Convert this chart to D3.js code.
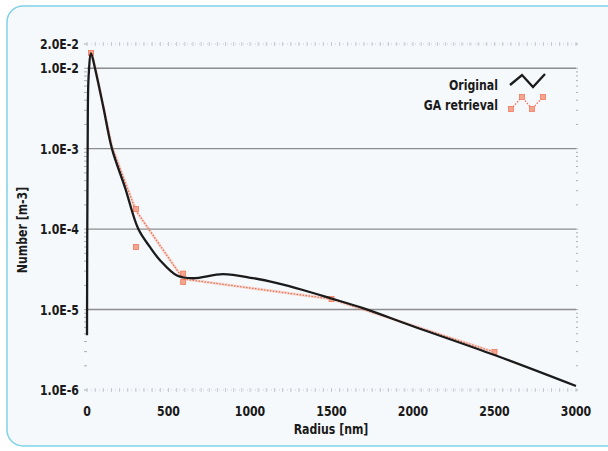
<!DOCTYPE html>
<html>
<head>
<meta charset="utf-8">
<script src="https://cdn.jsdelivr.net/npm/d3@7"></script>
<style>
  html, body { margin: 0; padding: 0; background: #fff; }
  svg text { font-family: "Liberation Sans Narrow", "DejaVu Sans Condensed", "Arial Narrow", sans-serif; font-weight: bold; fill: #1a1a1a; font-size: 14.5px; }
</style>
</head>
<body>
<svg id="chart"></svg>
<script>
// original size distribution (radius nm, number m-3)
const origR = [0, 4, 10, 25, 49, 100, 153, 233, 315, 386, 448, 552, 650, 834, 1018, 1166, 1325, 1491, 1693, 2000, 2500, 3000];
const origN = [4.8e-6, 1e-3, 8e-3, 1.53e-2, 1e-2, 3.3e-3, 1e-3, 3.3e-4, 1e-4, 6e-5, 4.1e-5, 2.65e-5, 2.45e-5, 2.76e-5, 2.46e-5, 2.13e-5, 1.75e-5, 1.39e-5, 1.04e-5, 6.2e-6, 2.72e-6, 1.12e-6];

// GA retrieval line + its markers
const gaR = [25, 49, 153, 300, 590, 1500, 2500];
const gaN = [1.6e-2, 1.05e-2, 1.05e-3, 1.7e-4, 2.4e-5, 1.35e-5, 2.95e-6];
const gaMarkR = [25, 300, 300, 590, 590, 1500, 2500];
const gaMarkN = [1.55e-2, 1.78e-4, 6e-5, 2.8e-5, 2.2e-5, 1.35e-5, 2.96e-6];

const xTicks = [0, 500, 1000, 1500, 2000, 2500, 3000];
const yTicks = [2e-2, 1e-2, 1e-3, 1e-4, 1e-5, 1e-6];
const yTickLabels = ['2.0E-2', '1.0E-2', '1.0E-3', '1.0E-4', '1.0E-5', '1.0E-6'];
const gridVals = [1e-2, 1e-3, 1e-4, 1e-5];

const W = 608, H = 451;
const svg = d3.select('#chart').attr('width', W).attr('height', H);

// squeeze text horizontally, the original uses a condensed face
const squeeze = 0.84;
function label(g, tx, ty, str, anchor, rot) {
  return g.append('text')
    .attr('transform', 'translate(' + tx + ',' + ty + ')' + (rot ? ' rotate(' + rot + ')' : '') + ' scale(' + squeeze + ',1)')
    .attr('text-anchor', anchor)
    .text(str);
}

// panel background with rounded border
svg.append('rect')
  .attr('x', 7).attr('y', 6).attr('width', 640).attr('height', 440).attr('rx', 16)
  .attr('fill', '#f6f9fc').attr('stroke', '#7fd2e5').attr('stroke-width', 1.5);

const x = d3.scaleLinear().domain([0, 3000]).range([87, 576]);
const y = d3.scaleLog().domain([1e-6, 2e-2]).range([390, 44]);

// grid
svg.append('g').selectAll('line')
  .data(gridVals).enter().append('line')
  .attr('x1', x(0)).attr('x2', x(3000))
  .attr('y1', d => y(d)).attr('y2', d => y(d))
  .attr('stroke', '#8c8c8c').attr('stroke-width', 1.4);

// dotted top / bottom frame with minor ticks every 50 nm
const minorX = d3.range(0, 3001, 50);
[2e-2, 1e-6].forEach(v => {
  svg.append('line')
    .attr('x1', x(0)).attr('x2', x(3000)).attr('y1', y(v)).attr('y2', y(v))
    .attr('stroke', '#c9ced4').attr('stroke-width', 1).attr('stroke-dasharray', '1,3');
  svg.append('g').selectAll('line')
    .data(minorX).enter().append('line')
    .attr('x1', d => x(d)).attr('x2', d => x(d))
    .attr('y1', y(v) - 2).attr('y2', y(v) + 2)
    .attr('stroke', '#b9bfc6').attr('stroke-width', 0.8);
});

// minor log ticks on left and right
const minorY = [];
for (let e = -6; e <= -2; e++) {
  for (let m = 1; m <= 9; m++) {
    const v = m * Math.pow(10, e);
    if (v >= 1e-6 && v <= 2e-2) minorY.push(v);
  }
}
svg.append('g').selectAll('line')
  .data(minorY).enter().append('line')
  .attr('x1', x(0) - 3).attr('x2', x(0))
  .attr('y1', d => y(d)).attr('y2', d => y(d))
  .attr('stroke', '#a9afb6').attr('stroke-width', 1);
svg.append('g').selectAll('line')
  .data(minorY).enter().append('line')
  .attr('x1', x(3000)).attr('x2', x(3000) + 2)
  .attr('y1', d => y(d)).attr('y2', d => y(d))
  .attr('stroke', '#a9afb6').attr('stroke-width', 1);

// tick labels
const labels = svg.append('g');
yTicks.forEach((d, i) => label(labels, 79, y(d) + 5, yTickLabels[i], 'end'));
xTicks.forEach(d => label(labels, x(d), 416, String(d), 'middle'));

// axis titles
label(svg, 331, 434, 'Radius [nm]', 'middle');
label(svg, 27, 230, 'Number [m-3]', 'middle', -90);

// GA retrieval
const gaData = gaR.map((r, i) => [r, gaN[i]]);
const gaLine = d3.line().x(d => x(d[0])).y(d => y(d[1]));
svg.append('path')
  .attr('d', gaLine(gaData))
  .attr('fill', 'none').attr('stroke', '#f2a08c').attr('stroke-width', 3).attr('opacity', 0.35);
svg.append('path')
  .attr('d', gaLine(gaData))
  .attr('fill', 'none').attr('stroke', '#ec6f50').attr('stroke-width', 1.3)
  .attr('stroke-dasharray', '1.5,1.5');
svg.append('g').selectAll('rect')
  .data(gaMarkR.map((r, i) => [r, gaMarkN[i]])).enter().append('rect')
  .attr('x', d => x(d[0]) - 2.5).attr('y', d => y(d[1]) - 2.5)
  .attr('width', 5).attr('height', 5)
  .attr('fill', '#f5a58f').attr('stroke', '#ee7a5c').attr('stroke-width', 0.8);

// original
const origData = origR.map((r, i) => [r, origN[i]]);
svg.append('path')
  .attr('d', d3.line().x(d => x(d[0])).y(d => y(d[1])).curve(d3.curveCatmullRom.alpha(0.5))(origData))
  .attr('fill', 'none').attr('stroke', '#1b1b1b').attr('stroke-width', 2.3)
  .attr('stroke-linejoin', 'round');

// legend
const legend = svg.append('g');
label(legend, 498, 90, 'Original', 'end');
label(legend, 498, 110, 'GA retrieval', 'end');
const zig1 = [[510, 85], [522, 75], [533, 87], [545, 74]];
const zig2 = [[511, 109], [522, 97], [532, 109], [543, 97]];
legend.append('path').attr('d', d3.line()(zig1))
  .attr('fill', 'none').attr('stroke', '#1b1b1b').attr('stroke-width', 2.3);
legend.append('path').attr('d', d3.line()(zig2))
  .attr('fill', 'none').attr('stroke', '#ec6f50').attr('stroke-width', 1.3)
  .attr('stroke-dasharray', '1.5,1.5');
legend.selectAll('rect.m').data(zig2).enter().append('rect')
  .attr('x', d => d[0] - 2.5).attr('y', d => d[1] - 2.5)
  .attr('width', 5).attr('height', 5)
  .attr('fill', '#f5a58f').attr('stroke', '#ee7a5c').attr('stroke-width', 0.8);
</script>
</body>
</html>
